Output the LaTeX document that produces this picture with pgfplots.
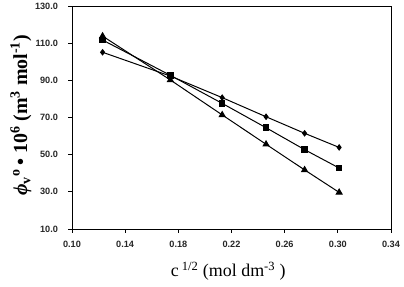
\documentclass[border=0pt]{standalone}
\usepackage{pgfplots}
\pgfplotsset{compat=1.18}
\usepackage{fontspec}
\setmainfont{Liberation Serif}
\newfontfamily\tickfont{Liberation Sans}
\begin{document}
\begin{tikzpicture}
\begin{axis}[
  scale only axis, width=319bp, height=223bp,
  at={(0,0)}, anchor=south west,
  xmin=0.10, xmax=0.34, ymin=10, ymax=130,
  xtick={0.10,0.14,...,0.34}, ytick={10,30,...,130},
  axis line style={line width=0.9pt},
  tick style={black, line width=0.8pt},
  tick align=outside, major tick length=3.5bp,
  xtick pos=bottom, ytick pos=left,
  /pgf/number format/assume math mode=true,
  xticklabel style={/pgf/number format/.cd, fixed, fixed zerofill, precision=2, /tikz/yshift=-5bp},
  yticklabel style={/pgf/number format/.cd, fixed, fixed zerofill, precision=1, /tikz/xshift=-7bp},
  ticklabel style={font=\tickfont\bfseries\fontsize{9.2}{10}\selectfont, text=black!85},
  xlabel={c\,\textsuperscript{1/2} (mol dm\textsuperscript{-3} )},
  ylabel={\bfseries{\itshape ϕ}\textsubscript{v}\textsuperscript{o}\,• 10\textsuperscript{6} (m\textsuperscript{3} mol\textsuperscript{-1})},
  xlabel style={font=\fontsize{18}{20}\selectfont, at={(axis description cs:0.49,-0.19)}, anchor=center},
  ylabel style={font=\fontsize{20}{22}\selectfont, at={(axis description cs:-0.16,0.51)}, anchor=center, rotate=0},
  every axis plot/.append style={black, line width=1pt},
]
\addplot[mark=diamond*, mark size=2.6bp] coordinates {
(0.123,105.1) (0.174,92.3) (0.213,80.7) (0.246,70.4) (0.275,61.5) (0.301,53.9)};
\addplot[mark=square*, mark size=2.8bp] coordinates {
(0.123,111.7) (0.174,92.7) (0.213,77.6) (0.246,64.5) (0.275,52.7) (0.301,42.8)};
\addplot[mark=triangle*, mark size=3.3bp] coordinates {
(0.123,113.8) (0.174,90.2) (0.213,71.4) (0.246,55.6) (0.275,41.8) (0.301,29.7)};
\end{axis}
\pgfresetboundingbox
\path (-72bp,-58bp) rectangle (332bp,229bp);
\end{tikzpicture}
\end{document}
